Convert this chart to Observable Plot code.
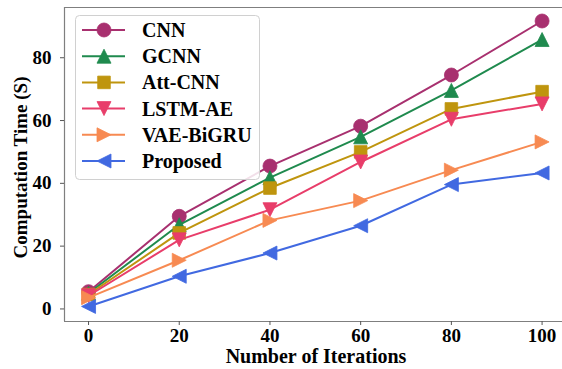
<!DOCTYPE html>
<html>
<head>
<meta charset="utf-8">
<script src="https://cdn.jsdelivr.net/npm/d3@7"></script>
<script src="https://cdn.jsdelivr.net/npm/@observablehq/plot@0.6"></script>
<style>
  html, body { margin: 0; padding: 0; background: #fff; }
  #chart svg { display: block; font-family: "Liberation Serif", "Times New Roman", serif; font-weight: bold; }
</style>
</head>
<body>
<div id="chart"></div>
<script>
const iterations = [0, 20, 40, 60, 80, 100];
const seriesNames = ["CNN", "GCNN", "Att-CNN", "LSTM-AE", "VAE-BiGRU", "Proposed"];
const cnn      = [5.5, 29.5, 45.5, 58.2, 74.5, 91.7];
const gcnn     = [5.0, 26.8, 41.8, 54.8, 69.6, 85.8];
const attCnn   = [4.6, 24.2, 38.5, 50.0, 63.7, 69.2];
const lstmAe   = [4.2, 22.0, 31.6, 46.8, 60.4, 65.3];
const vaeBigru = [3.6, 15.5, 28.2, 34.5, 44.2, 53.2];
const proposed = [0.8, 10.4, 17.8, 26.5, 39.6, 43.3];
const yTicks = [0, 20, 40, 60, 80];
const colors = ["#a8306f", "#1f8a4e", "#bf950e", "#e83d6a", "#f78a52", "#4169e1"];

const values = [cnn, gcnn, attCnn, lstmAe, vaeBigru, proposed];

function poly(pts) {
  return {
    draw(ctx, size) {
      const s = Math.sqrt(size / Math.PI);
      ctx.moveTo(pts[0][0] * s, pts[0][1] * s);
      for (let i = 1; i < pts.length; i++) ctx.lineTo(pts[i][0] * s, pts[i][1] * s);
      ctx.closePath();
    }
  };
}
const circleSym = { draw(ctx, size) { const s = Math.sqrt(size / Math.PI); ctx.moveTo(s, 0); ctx.arc(0, 0, s, 0, 2 * Math.PI); } };
const symbols = [
  circleSym,
  poly([[0, -1], [-1, 1], [1, 1]]),
  poly([[-0.9, -0.9], [0.9, -0.9], [0.9, 0.9], [-0.9, 0.9]]),
  poly([[0, 1], [-1, -1], [1, -1]]),
  poly([[1, 0], [-1, -1], [-1, 1]]),
  poly([[-1, 0], [1, -1], [1, 1]])
];

const data = [];
seriesNames.forEach((name, si) => {
  iterations.forEach((it, i) => data.push({ series: name, si, x: it, y: values[si][i] }));
});

const xDomain = [-5.3, 104.5];
const yDomain = [-4.0, 96.0];
const R = 7;

const marks = [];
seriesNames.forEach((name, si) => {
  const d = data.filter(p => p.si === si);
  marks.push(Plot.line(d, { x: "x", y: "y", stroke: colors[si], strokeWidth: 2 }));
  marks.push(Plot.dot(d, { x: "x", y: "y", r: R, symbol: symbols[si], fill: colors[si], stroke: colors[si], strokeWidth: 0.8 }));
});

const chart = Plot.plot({
  width: 562,
  height: 369,
  marginLeft: 64,
  marginRight: 0,
  marginTop: 7,
  marginBottom: 48,
  x: { domain: xDomain, axis: null },
  y: { domain: yDomain, axis: null },
  marks: [
    Plot.ruleX([xDomain[0]], { stroke: "#7f7f7f", strokeWidth: 1.2 }),
    Plot.ruleY([yDomain[0], yDomain[1]], { stroke: "#7f7f7f", strokeWidth: 1.2 }),
    Plot.axisX({ ticks: iterations, tickSize: 4, tickPadding: 3, fontSize: 19, label: null, stroke: "#555", tickFormat: d3.format("d"), fill: "#000" }),
    Plot.axisY({ ticks: yTicks, tickSize: 4, tickPadding: 9, fontSize: 19, label: null, stroke: "#555", tickFormat: d3.format("d"), fill: "#000" }),
    Plot.text(["Number of Iterations"], { frameAnchor: "bottom", dx: 2.5, dy: 35, fontSize: 20, fontWeight: "bold", fill: "#000", lineAnchor: "middle", textAnchor: "middle" }),
    Plot.text(["Computation Time (S)"], { frameAnchor: "left", dx: -44, dy: 3, rotate: -90, fontSize: 19, fontWeight: "bold", fill: "#000", lineAnchor: "middle", textAnchor: "middle" }),
    ...marks
  ]
});

document.getElementById("chart").appendChild(chart);

// Legend
const svg = d3.select(chart);
const lg = svg.append("g");
lg.append("rect").attr("x", 75.5).attr("y", 15.5).attr("width", 184).attr("height", 164)
  .attr("rx", 4).attr("fill", "#fff").attr("fill-opacity", 0.85).attr("stroke", "#d0d0d0").attr("stroke-width", 1);
seriesNames.forEach((name, si) => {
  const cy = 30 + si * 26.2;
  lg.append("line").attr("x1", 82).attr("x2", 125).attr("y1", cy).attr("y2", cy)
    .attr("stroke", colors[si]).attr("stroke-width", 2);
  lg.append("path").attr("transform", `translate(104,${cy})`)
    .attr("d", d3.symbol().type(symbols[si]).size(Math.PI * R * R)())
    .attr("fill", colors[si]).attr("stroke", colors[si]).attr("stroke-width", 0.8);
  lg.append("text").attr("x", 142).attr("y", cy).attr("dy", "0.35em")
    .attr("text-anchor", "start")
    .attr("font-size", 20).attr("font-weight", "bold").attr("fill", "#000").text(name);
});
</script>
</body>
</html>
